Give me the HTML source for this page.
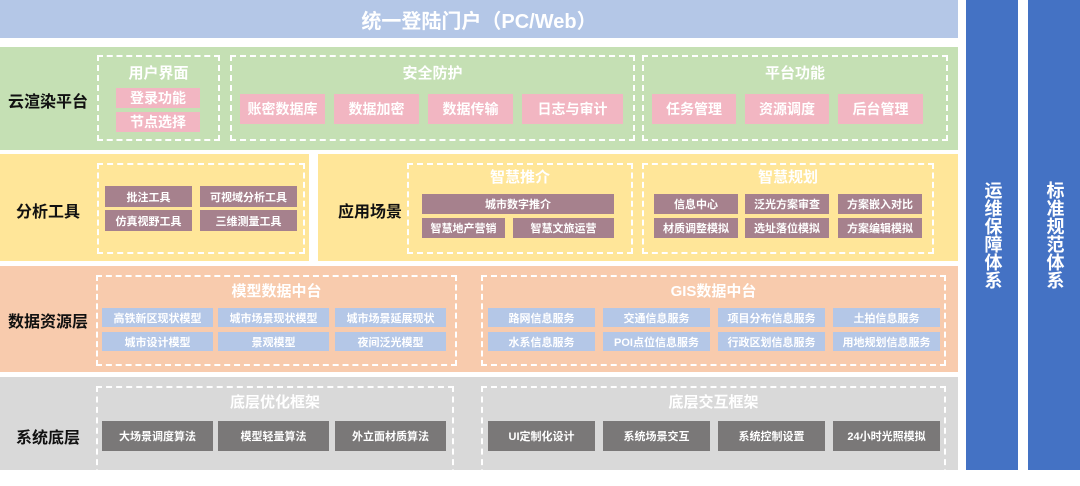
<!DOCTYPE html>
<html><head><meta charset="utf-8"><style>
*{margin:0;padding:0;box-sizing:border-box}
body{width:1080px;height:470px;background:#fff;position:relative;overflow:hidden;font-family:"Liberation Sans","Noto Sans CJK SC",sans-serif;font-weight:bold}
div{position:absolute}
.c{display:flex;align-items:center;justify-content:center;text-align:center;white-space:nowrap}
.d{border:2.5px dashed #fff}
.t{color:#fff;font-size:15px;font-weight:bold}
.lab{font-size:16px;color:#111}
.p{background:#f2b6c2;color:#fff;font-size:14px}
.m{background:#a6818d;color:#fff;font-size:11px}
.b{background:#b4c7e7;color:#fff;font-size:11px}
.g{background:#7a7878;color:#fff;font-size:11px}
.v{background:#4472c4;color:#fff;font-size:18px;line-height:19px;writing-mode:vertical-rl}
</style></head><body>
<div class="c" style="left:0;top:0;width:958px;height:38px;background:#b4c7e7;color:#fff;font-size:20px">统一登陆门户（PC/Web）</div>
<div class="c v" style="left:966px;top:0;width:52px;height:470px">运维保障体系</div>
<div class="c v" style="left:1028px;top:0;width:52px;height:470px">标准规范体系</div>

<!-- row1 -->
<div style="left:0;top:47px;width:958px;height:103px;background:#c5e0b4"></div>
<div class="c lab" style="left:0;top:85px;width:96px;height:30px">云渲染平台</div>
<div class="d" style="left:97px;top:55px;width:123px;height:86px"></div>
<div class="d" style="left:230px;top:55px;width:405px;height:86px"></div>
<div class="d" style="left:642px;top:55px;width:306px;height:86px"></div>
<div class="c t" style="left:97px;top:62px;width:123px;height:20px">用户界面</div>
<div class="c t" style="left:230px;top:62px;width:405px;height:20px">安全防护</div>
<div class="c t" style="left:642px;top:62px;width:306px;height:20px">平台功能</div>
<div class="c p" style="left:116px;top:88px;width:84px;height:20px">登录功能</div>
<div class="c p" style="left:116px;top:112px;width:84px;height:20px">节点选择</div>
<div class="c p" style="left:240px;top:94px;width:85px;height:30px">账密数据库</div>
<div class="c p" style="left:334px;top:94px;width:85px;height:30px">数据加密</div>
<div class="c p" style="left:428px;top:94px;width:85px;height:30px">数据传输</div>
<div class="c p" style="left:522px;top:94px;width:101px;height:30px">日志与审计</div>
<div class="c p" style="left:652px;top:94px;width:84px;height:30px">任务管理</div>
<div class="c p" style="left:745px;top:94px;width:84px;height:30px">资源调度</div>
<div class="c p" style="left:838px;top:94px;width:85px;height:30px">后台管理</div>

<!-- row2 -->
<div style="left:0;top:154px;width:309px;height:107px;background:#ffe699"></div>
<div style="left:318px;top:154px;width:640px;height:107px;background:#ffe699"></div>
<div class="c lab" style="left:0;top:195px;width:96px;height:30px">分析工具</div>
<div class="c lab" style="left:320px;top:195px;width:100px;height:30px">应用场景</div>
<div class="d" style="left:97px;top:163px;width:208px;height:91px"></div>
<div class="d" style="left:407px;top:163px;width:226px;height:91px"></div>
<div class="d" style="left:642px;top:163px;width:292px;height:91px"></div>
<div class="c t" style="left:407px;top:166px;width:226px;height:20px">智慧推介</div>
<div class="c t" style="left:642px;top:166px;width:292px;height:20px">智慧规划</div>
<div class="c m" style="left:105px;top:186px;width:87px;height:21px">批注工具</div>
<div class="c m" style="left:200px;top:186px;width:97px;height:21px">可视域分析工具</div>
<div class="c m" style="left:105px;top:210px;width:87px;height:21px">仿真视野工具</div>
<div class="c m" style="left:200px;top:210px;width:97px;height:21px">三维测量工具</div>
<div class="c m" style="left:422px;top:194px;width:192px;height:20px">城市数字推介</div>
<div class="c m" style="left:422px;top:218px;width:83px;height:20px">智慧地产营销</div>
<div class="c m" style="left:513px;top:218px;width:101px;height:20px">智慧文旅运营</div>
<div class="c m" style="left:654px;top:194px;width:84px;height:20px">信息中心</div>
<div class="c m" style="left:745px;top:194px;width:84px;height:20px">泛光方案审查</div>
<div class="c m" style="left:838px;top:194px;width:84px;height:20px">方案嵌入对比</div>
<div class="c m" style="left:654px;top:218px;width:84px;height:20px">材质调整模拟</div>
<div class="c m" style="left:745px;top:218px;width:84px;height:20px">选址落位模拟</div>
<div class="c m" style="left:838px;top:218px;width:84px;height:20px">方案编辑模拟</div>

<!-- row3 -->
<div style="left:0;top:266px;width:958px;height:106px;background:#f8cbad"></div>
<div class="c lab" style="left:0;top:305px;width:96px;height:30px">数据资源层</div>
<div class="d" style="left:96px;top:275px;width:361px;height:91px"></div>
<div class="d" style="left:481px;top:275px;width:465px;height:91px"></div>
<div class="c t" style="left:96px;top:280px;width:361px;height:20px">模型数据中台</div>
<div class="c t" style="left:481px;top:280px;width:465px;height:20px">GIS数据中台</div>
<div class="c b" style="left:102px;top:308px;width:111px;height:19px">高铁新区现状模型</div>
<div class="c b" style="left:218px;top:308px;width:111px;height:19px">城市场景现状模型</div>
<div class="c b" style="left:335px;top:308px;width:111px;height:19px">城市场景延展现状</div>
<div class="c b" style="left:102px;top:332px;width:111px;height:19px">城市设计模型</div>
<div class="c b" style="left:218px;top:332px;width:111px;height:19px">景观模型</div>
<div class="c b" style="left:335px;top:332px;width:111px;height:19px">夜间泛光模型</div>
<div class="c b" style="left:488px;top:308px;width:107px;height:19px">路网信息服务</div>
<div class="c b" style="left:603px;top:308px;width:107px;height:19px">交通信息服务</div>
<div class="c b" style="left:718px;top:308px;width:107px;height:19px">项目分布信息服务</div>
<div class="c b" style="left:833px;top:308px;width:107px;height:19px">土拍信息服务</div>
<div class="c b" style="left:488px;top:332px;width:107px;height:19px">水系信息服务</div>
<div class="c b" style="left:603px;top:332px;width:107px;height:19px">POI点位信息服务</div>
<div class="c b" style="left:718px;top:332px;width:107px;height:19px">行政区划信息服务</div>
<div class="c b" style="left:833px;top:332px;width:107px;height:19px">用地规划信息服务</div>

<!-- row4 -->
<div style="left:0;top:377px;width:958px;height:93px;background:#d9d9d9"></div>
<div class="c lab" style="left:0;top:421px;width:96px;height:30px">系统底层</div>
<div class="d" style="left:96px;top:386px;width:358px;height:100px"></div>
<div class="d" style="left:481px;top:386px;width:465px;height:100px"></div>
<div class="c t" style="left:96px;top:391px;width:358px;height:20px">底层优化框架</div>
<div class="c t" style="left:481px;top:391px;width:465px;height:20px">底层交互框架</div>
<div class="c g" style="left:102px;top:421px;width:111px;height:30px">大场景调度算法</div>
<div class="c g" style="left:218px;top:421px;width:111px;height:30px">模型轻量算法</div>
<div class="c g" style="left:335px;top:421px;width:111px;height:30px">外立面材质算法</div>
<div class="c g" style="left:488px;top:421px;width:107px;height:30px">UI定制化设计</div>
<div class="c g" style="left:603px;top:421px;width:107px;height:30px">系统场景交互</div>
<div class="c g" style="left:718px;top:421px;width:107px;height:30px">系统控制设置</div>
<div class="c g" style="left:833px;top:421px;width:107px;height:30px">24小时光照模拟</div>
</body></html>
